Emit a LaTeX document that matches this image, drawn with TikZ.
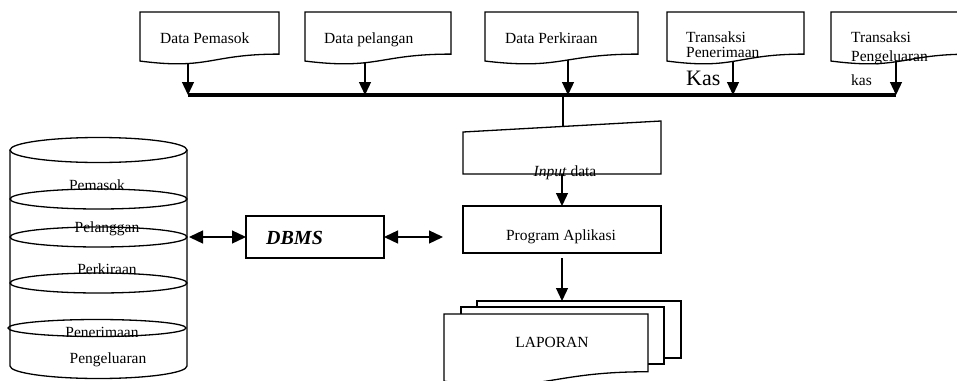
\documentclass[tikz,border=0pt]{standalone}
\usepackage{fontspec}
\setmainfont{Liberation Serif}
\usepackage{tikz}
\usetikzlibrary{arrows.meta,positioning,calc}
\newcommand{\lblfont}{\fontsize{15.5}{17}\selectfont}
\tikzset{
  line/.style={line width=1.3pt},
  outl/.style={draw, line width=1.3pt, fill=white},
  area/.style={inner sep=0pt, outer sep=0pt, anchor=north west},
  docbox/.style={area, minimum height=52.5pt},
  rectbox/.style={area, draw, fill=white, line width=1.3pt},
  arr/.style={line width=1.3pt, -{Triangle[length=13pt,width=12pt]}},
  dblarr/.style={line width=1.3pt, {Triangle[length=14pt,width=13pt]}-{Triangle[length=14pt,width=13pt]}},
  lbl/.style={font=\lblfont, inner sep=0pt, anchor=base}
}
% wavy document outline round an empty node
\newcommand{\docshape}[1]{%
  \draw[outl] (#1.north west) -- (#1.north east)
    -- ($(#1.north east)!0.802!(#1.south east)$)
    .. controls ($(#1.north)!0.802!(#1.south)$) and ($(#1.north)!1.107!(#1.south)$)
    .. ($(#1.north west)!0.934!(#1.south west)$) -- cycle;}
\begin{document}
\begin{tikzpicture}[x=1pt, y=-1pt]
  \useasboundingbox (0,0) rectangle (957,380);
  \clip (0,0) rectangle (957,380);

  % Source documents
  \node[docbox, minimum width=139pt] (d1) at (140,12) {};
  \node[docbox, minimum width=146pt] (d2) at (305,12) {};
  \node[docbox, minimum width=153pt] (d3) at (485,12) {};
  \node[docbox, minimum width=137pt] (d4) at (667,12) {};
  \node[docbox, minimum width=140pt] (d5) at (831,12) {};

  % Bus points
  \coordinate (b1) at (188,95);
  \coordinate (b2) at (365,95);
  \coordinate (b3) at (568,95);
  \coordinate (b4) at (733,95);
  \coordinate (b5) at (896,95);
  \coordinate (bin) at (563,95);

  % Process blocks
  \node[area, minimum width=198pt, minimum height=53pt] (inp) at (463,121) {};
  \node[rectbox, minimum width=198pt, minimum height=47pt] (prog) at (463,206) {};
  \node[rectbox, minimum width=138pt, minimum height=42pt] (dbms) at (246,216) {};
  \node[area, minimum width=177pt, minimum height=216pt] (db) at (10,150) {};

  % Report stack
  \node[rectbox, minimum width=204pt, minimum height=57pt] (lap3) at (477,301) {};
  \node[rectbox, minimum width=203pt, minimum height=57pt] (lap2) at (461,307) {};
  \node[area, minimum width=204pt, minimum height=72pt] (lap1) at (444,314) {};

  % Flows
  \draw[line width=3.5pt] (b1) -- (b5);
  \draw[arr] (d1.center -| b1) -- (b1);
  \draw[arr] (d2.center -| b2) -- (b2);
  \draw[arr] (d3.center -| b3) -- (b3);
  \draw[arr] (d4.center -| b4) -- (b4);
  \draw[arr] (d5.center -| b5) -- (b5);
  \draw[line] (bin) -- (inp.center -| bin);
  \draw[arr] (inp.south) -- (prog.north);
  \draw[arr, shorten <=5pt] (prog.south) -- (prog.south |- lap3.north);
  \draw[dblarr, shorten <=2pt] (dbms.west -| db.east) -- (dbms.west);
  \draw[dblarr, shorten >=20pt] (dbms.east) -- (dbms.east -| prog.west);

  % Outlines
  \docshape{d1}
  \docshape{d2}
  \docshape{d3}
  \docshape{d4}
  \docshape{d5}
  \docshape{lap1}
  \draw[outl] (inp.south west) -- ([yshift=-11pt]inp.north west) -- (inp.north east) -- (inp.south east) -- cycle;

  % Database cylinder
  \draw[line] (db.north west) -- (db.south west) arc[start angle=180, end angle=360, x radius=88.5pt, y radius=12.5pt] -- (db.north east);
  \draw[line] (db.north) ellipse [x radius=88.5pt, y radius=12.5pt];
  \foreach \yy in {199,237,283}
    \draw[line] (98.5,\yy) ellipse [x radius=88.5pt, y radius=10pt];
  \draw[line] (97,328) ellipse [x radius=89pt, y radius=8.5pt];

  % Labels
  \node[lbl, anchor=base west] (t1) at (160,43) {Data Pemasok};
  \node[lbl, anchor=base west] (t2) at (324,43) {Data pelangan};
  \node[lbl, anchor=base west] (t3) at (505,43) {Data Perkiraan};
  \node[lbl, anchor=base west] (t4a) at (686,42) {Transaksi};
  \node[lbl, anchor=base west] (t4b) at (686,57.5) {Penerimaan};
  \node[lbl, anchor=base west, font=\fontsize{22}{24}\selectfont] (t4c) at (686,85) {Kas};
  \node[lbl, anchor=base west] (t5a) at (851,42) {Transaksi};
  \node[lbl, anchor=base west] (t5b) at (851,61.5) {Pengeluaran};
  \node[lbl, anchor=base west] (t5c) at (851,85) {kas};
  \node[lbl] (tinp) at (565,176) {\textit{Input} data};
  \node[lbl] (tprog) at (561,240) {Program Aplikasi};
  \node[lbl, anchor=base west, font=\fontsize{20}{22}\selectfont\bfseries\itshape] (tdbms) at (266,244) {DBMS};
  \node[lbl] (tlap) at (552,347) {LAPORAN};
  \node[lbl] (c1) at (97,190) {Pemasok};
  \node[lbl] (c2) at (107,232) {Pelanggan};
  \node[lbl] (c3) at (107,274) {Perkiraan};
  \node[lbl] (c4) at (102,337) {Penerimaan};
  \node[lbl] (c5) at (108,363) {Pengeluaran};
\end{tikzpicture}
\end{document}
